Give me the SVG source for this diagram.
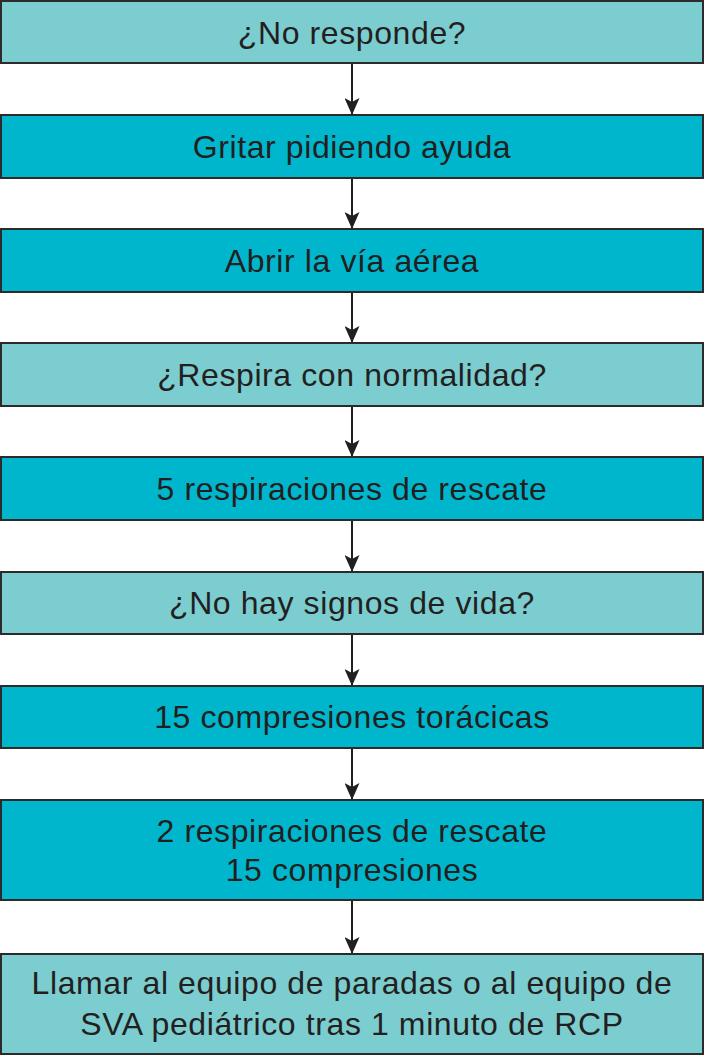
<svg xmlns="http://www.w3.org/2000/svg" width="705" height="1056" viewBox="0 0 705 1056">
<defs>
<style>
.box{stroke:#2b2b2b;stroke-width:2}
.l{fill:#7ccdd0}
.d{fill:#00b6cd}
text{font-family:"Liberation Sans",Arial,sans-serif;font-size:32px;letter-spacing:0.6px;fill:#231f20;text-anchor:middle}
.c{stroke:#231f20;stroke-width:2;fill:none}
</style>
<marker id="ah" viewBox="0 0 17 15" refX="17" refY="7.5" markerWidth="17" markerHeight="15" markerUnits="userSpaceOnUse" orient="auto">
<path d="M0,0 L17,7.5 L0,15 L4,7.5 Z" fill="#231f20"/>
</marker>
</defs>
<rect width="705" height="1056" fill="#fff"/>
<g id="connectors">
<line class="c" x1="352" y1="63" x2="352" y2="115" marker-end="url(#ah)"/>
<line class="c" x1="352" y1="178" x2="352" y2="229" marker-end="url(#ah)"/>
<line class="c" x1="352" y1="292" x2="352" y2="343" marker-end="url(#ah)"/>
<line class="c" x1="352" y1="406" x2="352" y2="457" marker-end="url(#ah)"/>
<line class="c" x1="352" y1="520" x2="352" y2="572" marker-end="url(#ah)"/>
<line class="c" x1="352" y1="634" x2="352" y2="686" marker-end="url(#ah)"/>
<line class="c" x1="352" y1="748" x2="352" y2="800" marker-end="url(#ah)"/>
<line class="c" x1="352" y1="900" x2="352" y2="954" marker-end="url(#ah)"/>
</g>
<g id="n1"><rect class="box l" x="1" y="1" width="702" height="62"/><text x="352" y="44">¿No responde?</text></g>
<g id="n2"><rect class="box d" x="1" y="115" width="702" height="63"/><text x="352" y="158">Gritar pidiendo ayuda</text></g>
<g id="n3"><rect class="box d" x="1" y="229" width="702" height="63"/><text x="352" y="272">Abrir la vía aérea</text></g>
<g id="n4"><rect class="box l" x="1" y="343" width="702" height="63"/><text x="352" y="386">¿Respira con normalidad?</text></g>
<g id="n5"><rect class="box d" x="1" y="457" width="702" height="63"/><text x="352" y="500">5 respiraciones de rescate</text></g>
<g id="n6"><rect class="box l" x="1" y="572" width="702" height="62"/><text x="352" y="614">¿No hay signos de vida?</text></g>
<g id="n7"><rect class="box d" x="1" y="686" width="702" height="62"/><text x="352" y="728">15 compresiones torácicas</text></g>
<g id="n8"><rect class="box d" x="1" y="800" width="702" height="100"/><text x="352" y="842">2 respiraciones de rescate</text><text x="352" y="881">15 compresiones</text></g>
<g id="n9"><rect class="box l" x="1" y="954" width="702" height="100"/><text x="352" y="994">Llamar al equipo de paradas o al equipo de</text><text x="352" y="1035">SVA pediátrico tras 1 minuto de RCP</text></g>
</svg>
